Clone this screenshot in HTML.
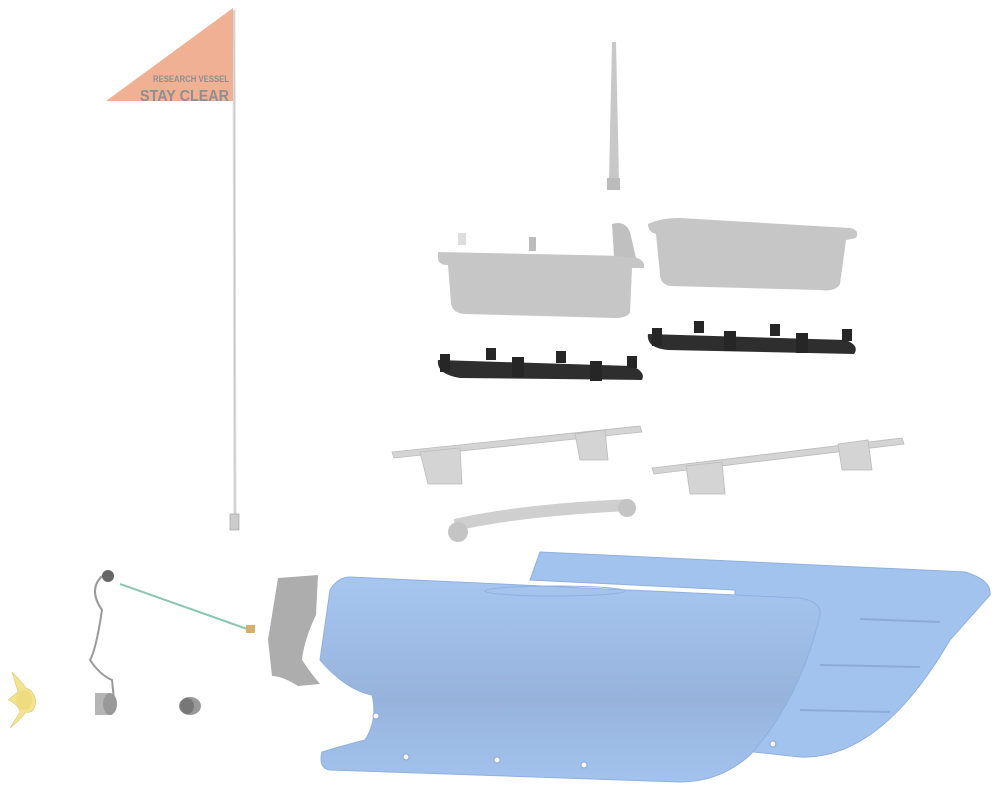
<!DOCTYPE html>
<html><head><meta charset="utf-8"><style>html,body{margin:0;background:#fff}svg{display:block}</style></head>
<body>
<svg width="1000" height="800" viewBox="0 0 1000 800" xmlns="http://www.w3.org/2000/svg">
<defs>
<linearGradient id="hb" x1="0" y1="0" x2="0" y2="1"><stop offset="0" stop-color="#a6c6f0"/><stop offset="0.6" stop-color="#97b3dc"/><stop offset="1" stop-color="#a2c3ee"/></linearGradient>
</defs>
<!-- flag -->
<line x1="234" y1="10" x2="235" y2="525" stroke="#ddd" stroke-width="3"/>
<line x1="234" y1="10" x2="235" y2="525" stroke="#bbb" stroke-width="0.6"/>
<rect x="230" y="514" width="9" height="16" fill="#ccc" stroke="#999" stroke-width="0.6"/>
<polygon points="233,8 106,101 233,101" fill="#f0b094"/>
<text x="229" y="82" text-anchor="end" font-family="Liberation Sans, sans-serif" font-weight="bold" font-size="9.5" fill="#8f8f8f" textLength="76" lengthAdjust="spacingAndGlyphs">RESEARCH VESSEL</text>
<text x="229" y="101" text-anchor="end" font-family="Liberation Sans, sans-serif" font-weight="bold" font-size="16" fill="#8f8f8f" textLength="89" lengthAdjust="spacingAndGlyphs">STAY CLEAR</text>
<!-- antenna -->
<path d="M612 42 L616 42 L619 180 L609 180 Z" fill="#c8c8c8"/>
<rect x="607" y="178" width="13" height="12" fill="#bbb"/>
<!-- top boxes -->
<path d="M438 252 L628 256 Q646 258 644 268 L632 268 L630 312 Q628 318 615 318 L465 314 Q452 313 451 303 L448 265 Q438 265 438 258 Z" fill="#c6c6c6"/>
<path d="M612 224 Q625 220 630 232 L636 258 L614 256 Z" fill="#c0c0c0"/>
<rect x="458" y="233" width="8" height="12" fill="#ddd"/>
<rect x="529" y="237" width="7" height="14" fill="#bbb"/>
<path d="M648 224 Q660 218 680 218 L850 228 Q860 230 856 238 L846 240 L840 284 Q836 292 820 290 L670 286 Q660 284 660 274 L656 234 Q648 232 648 224 Z" fill="#c6c6c6"/>
<!-- black clip rails -->
<path d="M438 360 L632 366 Q646 372 642 380 L460 378 Q436 374 438 360 Z" fill="#2e2e2e"/>
<g fill="#262626"><rect x="440" y="354" width="10" height="18"/><rect x="486" y="348" width="10" height="12"/><rect x="512" y="357" width="12" height="20"/><rect x="556" y="351" width="10" height="12"/><rect x="590" y="361" width="12" height="20"/><rect x="627" y="356" width="10" height="12"/></g>
<path d="M648 334 L846 340 Q860 346 854 354 L668 350 Q646 348 648 334 Z" fill="#2e2e2e"/>
<g fill="#262626"><rect x="652" y="328" width="10" height="18"/><rect x="694" y="321" width="10" height="12"/><rect x="724" y="331" width="12" height="20"/><rect x="770" y="324" width="10" height="12"/><rect x="796" y="333" width="12" height="20"/><rect x="842" y="329" width="10" height="12"/></g>
<!-- frames -->
<g fill="#d4d4d4" stroke="#bbb" stroke-width="0.8">
<polygon points="392,452 640,426 642,432 394,458"/>
<polygon points="420,452 460,448 462,484 428,484"/>
<polygon points="575,434 605,430 608,460 580,460"/>
<polygon points="652,468 902,438 904,444 654,474"/>
<polygon points="686,466 722,462 725,494 690,494"/>
<polygon points="838,444 868,440 872,470 842,470"/>
</g>
<!-- tube -->
<path d="M455 525 Q520 510 630 505" stroke="#cfcfcf" stroke-width="12" fill="none"/>
<circle cx="458" cy="532" r="10" fill="#c4c4c4"/>
<circle cx="627" cy="508" r="9" fill="#c4c4c4"/>
<!-- hulls -->
<path d="M540 552 L965 572 Q992 580 990 595 L950 640 Q880 760 800 757 L735 750 L735 590 L530 580 Z" fill="#a3c3ef" stroke="#8fb0e0" stroke-width="1"/>
<g stroke="#8cabd8" stroke-width="2"><line x1="860" y1="619" x2="940" y2="622"/><line x1="820" y1="665" x2="920" y2="667"/><line x1="800" y1="710" x2="890" y2="712"/></g>
<path d="M350 577 L800 598 Q822 602 820 615 Q800 700 750 755 Q720 782 680 782 L330 770 Q318 768 322 752 Q345 745 365 740 Q378 720 372 695 Q346 690 320 660 L330 590 Q338 577 350 577 Z" fill="url(#hb)" stroke="#8fb0e0" stroke-width="1"/>
<ellipse cx="555" cy="591" rx="70" ry="5" fill="none" stroke="#8fb0e0"/>
<g fill="#fff" stroke="#8aa8d4"><circle cx="376" cy="716" r="3"/><circle cx="406" cy="757" r="3"/><circle cx="497" cy="760" r="3"/><circle cx="584" cy="765" r="3"/><circle cx="773" cy="744" r="3"/></g>
<!-- bracket -->
<path d="M278 578 L318 575 L316 615 Q304 640 302 660 Q310 672 320 684 L298 686 Q282 676 272 676 L268 640 Z" fill="#adadad"/>
<!-- cable -->
<path d="M102 576 Q88 590 102 610 Q96 650 90 660 Q100 675 112 680 L114 700" stroke="#999" stroke-width="2" fill="none"/>
<circle cx="108" cy="576" r="6" fill="#666"/>
<line x1="120" y1="584" x2="250" y2="630" stroke="#8cc5b0" stroke-width="2"/>
<rect x="246" y="625" width="9" height="8" fill="#d6b070"/>
<!-- motor parts -->
<path d="M95 693 L110 693 L112 715 L95 715 Z" fill="#b5b5b5"/>
<ellipse cx="110" cy="704" rx="7" ry="11" fill="#999"/>
<ellipse cx="190" cy="706" rx="11" ry="9" fill="#999"/>
<ellipse cx="187" cy="706" rx="7" ry="8" fill="#777"/>
<!-- propeller -->
<path d="M12 672 Q16 685 18 692 L8 700 Q18 704 20 712 L10 728 Q22 718 26 712 Q34 714 36 702 Q34 690 26 688 Q20 680 12 672 Z" fill="#f2e38e" stroke="#d8c870" stroke-width="0.6"/>
<ellipse cx="24" cy="700" rx="8" ry="10" fill="#efdc80"/>
</svg>
</body></html>
